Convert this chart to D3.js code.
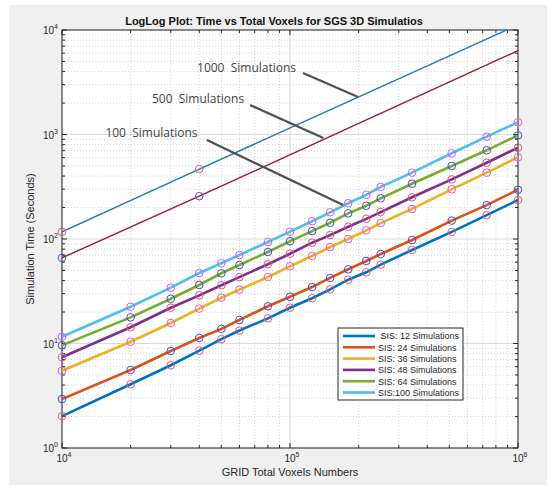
<!DOCTYPE html>
<html>
<head>
<meta charset="utf-8">
<script src="https://cdn.jsdelivr.net/npm/d3@7"></script>
<style>
  body { margin: 0; background: #fff; }
  svg { display: block; font-family: "Liberation Sans", Arial, sans-serif; }
  .lbl { white-space: pre; }
</style>
</head>
<body>
<svg id="chart" width="552" height="492"></svg>
<script>
// grid sizes (total voxels) where each run was timed
var voxels = [1e4, 2e4, 3e4, 4e4, 5e4, 6e4, 8e4, 1e5, 1.25e5, 1.5e5, 1.8e5, 2.16e5, 2.5e5, 3.43e5, 5.12e5, 7.29e5, 1e6];

var sis12  = [2.02, 4.07, 6.19, 8.53, 11.0, 13.3, 17.4, 22.0, 27.1, 33.0, 40.8, 48.0, 56.8, 78.5, 117, 169, 236];
var sis24  = [2.94, 5.58, 8.48, 11.3, 13.8, 16.8, 22.7, 28.0, 34.7, 42.4, 51.3, 61.6, 71.8, 97.8, 150, 211, 296];
var sis36  = [5.49, 10.4, 15.7, 21.6, 27.4, 32.8, 43.3, 54.8, 68.8, 83.8, 100, 121, 142, 194, 299, 431, 605];
var sis48  = [7.38, 14.3, 22.0, 28.9, 36.1, 43.2, 57.3, 72.3, 92.2, 109, 131, 156, 181, 251, 372, 537, 748];
var sis64  = [9.61, 17.8, 26.8, 36.3, 47.0, 56.4, 75.1, 95.1, 119, 143, 176, 208, 245, 338, 500, 706, 982];
var sis100 = [11.6, 22.5, 34.2, 47.3, 58.6, 70.3, 93.6, 117.5, 148, 180, 220, 265, 315, 431, 661, 953, 1310];

var seriesNames = [" SIS: 12 Simulations", "SIS: 24 Simulations", "SIS: 36 Simulations",
                   "SIS: 48 Simulations", "SIS: 64 Simulations", "SIS:100 Simulations"];

// extrapolated runs (thin lines)
var extraVoxels = [1e4, 4e4, 1e6];
var extra1000 = [117, 467, 11200];
var extra500  = [66, 257, 6350];
var extraMarked = 2; // only the first two points carry markers

// annotation text + pointer line, in data coordinates
var noteText = ["1000  Simulations", "500  Simulations", "100  Simulations"];
var noteTextAt = [[3.91e4, 3960], [2.48e4, 2000], [1.55e4, 946]];
var notePointer = [
  [[1.14e5, 3880], [1.99e5, 2290]],
  [[6.68e4, 1915], [1.40e5, 926]],
  [[4.32e4, 886], [1.71e5, 211]]
];

var xTicks = [1e4, 1e5, 1e6];
var yTicks = [1, 10, 100, 1000, 10000];

var colors = ["#0072BD", "#D95319", "#EDB120", "#7E2F8E", "#77AC30", "#4DBEEE"];
var markerColors = ["#e8557a", "#4646d8", "#e655e6", "#e8557a", "#4646d8", "#e655e6"];

var svg = d3.select("#chart");
var pL = 62, pR = 518, pT = 30, pB = 448;

var x = d3.scaleLog().domain([1e4, 1e6]).range([pL, pR]);
var y = d3.scaleLog().domain([1, 1e4]).range([pB, pT]);

// figure background
svg.append("rect").attr("x", 9).attr("y", 5).attr("width", 538).attr("height", 480).attr("fill", "#f0f0f0");
svg.append("rect").attr("x", pL).attr("y", pT).attr("width", pR - pL).attr("height", pB - pT).attr("fill", "#fff");

svg.append("clipPath").attr("id", "clip")
  .append("rect").attr("x", pL).attr("y", pT).attr("width", pR - pL).attr("height", pB - pT);

// minor tick positions 2..9 per decade
function minors(lo, hi) {
  var out = [];
  for (var p = lo; p < hi; p *= 10)
    for (var k = 2; k <= 9; k++) out.push(p * k);
  return out;
}
var xMinor = minors(1e4, 1e6), yMinor = minors(1, 1e4);

var grid = svg.append("g");
grid.selectAll(".gxm").data(xMinor).enter().append("line")
  .attr("x1", d => x(d)).attr("x2", d => x(d)).attr("y1", pT).attr("y2", pB)
  .attr("stroke", "#d4d4d4").attr("stroke-dasharray", "1,2");
grid.selectAll(".gym").data(yMinor).enter().append("line")
  .attr("y1", d => y(d)).attr("y2", d => y(d)).attr("x1", pL).attr("x2", pR)
  .attr("stroke", "#d4d4d4").attr("stroke-dasharray", "1,2");
grid.selectAll(".gx").data(xTicks).enter().append("line")
  .attr("x1", d => x(d)).attr("x2", d => x(d)).attr("y1", pT).attr("y2", pB)
  .attr("stroke", "#dadada");
grid.selectAll(".gy").data(yTicks).enter().append("line")
  .attr("y1", d => y(d)).attr("y2", d => y(d)).attr("x1", pL).attr("x2", pR)
  .attr("stroke", "#dadada");

// axes box + ticks
var ax = svg.append("g").attr("stroke", "#262626");
function ticks(vals, len, horiz) {
  vals.forEach(function (v) {
    if (horiz) {
      var px = x(v);
      ax.append("line").attr("x1", px).attr("x2", px).attr("y1", pB).attr("y2", pB - len);
      ax.append("line").attr("x1", px).attr("x2", px).attr("y1", pT).attr("y2", pT + len);
    } else {
      var py = y(v);
      ax.append("line").attr("y1", py).attr("y2", py).attr("x1", pL).attr("x2", pL + len);
      ax.append("line").attr("y1", py).attr("y2", py).attr("x1", pR).attr("x2", pR - len);
    }
  });
}
ticks(xMinor, 3, true); ticks(xTicks, 5, true);
ticks(yMinor, 3, false); ticks(yTicks, 5, false);
ax.append("rect").attr("x", pL).attr("y", pT).attr("width", pR - pL).attr("height", pB - pT)
  .attr("fill", "none").attr("stroke-width", 1);

// data lines
var line = d3.line().x(d => x(d[0])).y(d => y(d[1]));
var plot = svg.append("g").attr("clip-path", "url(#clip)");
var marks = svg.append("g");

var extras = [
  { vals: extra1000, color: "#1f78b8", mk: "#e8557a" },
  { vals: extra500, color: "#a2142f", mk: "#4646d8" }
];
extras.forEach(function (s) {
  var pts = extraVoxels.map((v, i) => [v, s.vals[i]]);
  plot.append("path").attr("d", line(pts)).attr("fill", "none")
    .attr("stroke", s.color).attr("stroke-width", 1.4);
  marks.selectAll(null).data(pts.slice(0, extraMarked)).enter().append("circle")
    .attr("cx", d => x(d[0])).attr("cy", d => y(d[1])).attr("r", 3.8)
    .attr("fill", "none").attr("stroke", s.mk).attr("stroke-width", 1);
});

var allSeries = [sis12, sis24, sis36, sis48, sis64, sis100];
allSeries.forEach(function (vals, i) {
  var pts = voxels.map((v, j) => [v, vals[j]]);
  plot.append("path").attr("d", line(pts)).attr("fill", "none")
    .attr("stroke", colors[i]).attr("stroke-width", 2.6);
});
allSeries.forEach(function (vals, i) {
  var pts = voxels.map((v, j) => [v, vals[j]]);
  marks.selectAll(null).data(pts).enter().append("circle")
    .attr("cx", d => x(d[0])).attr("cy", d => y(d[1])).attr("r", 3.8)
    .attr("fill", "none").attr("stroke", markerColors[i]).attr("stroke-width", 1);
});

// annotations
notePointer.forEach(function (p) {
  svg.append("line")
    .attr("x1", x(p[0][0])).attr("y1", y(p[0][1]))
    .attr("x2", x(p[1][0])).attr("y2", y(p[1][1]))
    .attr("stroke", "#505050").attr("stroke-width", 2.2);
});
noteText.forEach(function (t, i) {
  svg.append("text").attr("class", "lbl")
    .attr("x", x(noteTextAt[i][0])).attr("y", y(noteTextAt[i][1]))
    .attr("font-family", "'Open Sans', sans-serif").attr("font-size", 12)
    .attr("fill", "#444").text(t);
});

function powLabel(g, px, py, anchor, exp) {
  var t = g.append("text").attr("x", px).attr("y", py).attr("text-anchor", anchor)
    .attr("font-size", 10).attr("fill", "#262626");
  t.append("tspan").text("10");
  t.append("tspan").attr("font-size", 7).attr("dy", -5).text(exp);
}
var labels = svg.append("g");
xTicks.forEach(v => powLabel(labels, x(v) + 2, pB + 14, "middle", Math.round(Math.log10(v))));
yTicks.forEach(v => powLabel(labels, pL - 4, y(v) + 4, "end", Math.round(Math.log10(v))));

svg.append("text").attr("x", (pL + pR) / 2).attr("y", 476).attr("text-anchor", "middle")
  .attr("font-size", 11).attr("fill", "#262626").text("GRID Total Voxels Numbers");
svg.append("text").attr("transform", "translate(34," + (pT + pB) / 2 + ") rotate(-90)")
  .attr("text-anchor", "middle").attr("font-size", 11).attr("fill", "#262626")
  .text("Simulation Time (Seconds)");
svg.append("text").attr("x", (pL + pR) / 2 - 16).attr("y", 25).attr("text-anchor", "middle")
  .attr("font-size", 11).attr("font-weight", "bold").attr("fill", "#111")
  .text("LogLog Plot: Time vs Total Voxels for SGS 3D Simulatios");

// legend
var lg = svg.append("g").attr("transform", "translate(338,328)");
lg.append("rect").attr("width", 125).attr("height", 72).attr("fill", "#fff")
  .attr("stroke", "#262626").attr("stroke-width", 1);
var rows = lg.selectAll(".row").data(seriesNames).enter().append("g")
  .attr("transform", (d, i) => "translate(0," + (8 + i * 11.3) + ")");
rows.append("line").attr("x1", 5).attr("x2", 37).attr("stroke", (d, i) => colors[i]).attr("stroke-width", 2.6);
rows.append("text").attr("class", "lbl").attr("x", 40).attr("y", 3.3)
  .attr("font-size", 9).attr("fill", "#262626").text(d => d);
</script>
</body>
</html>
